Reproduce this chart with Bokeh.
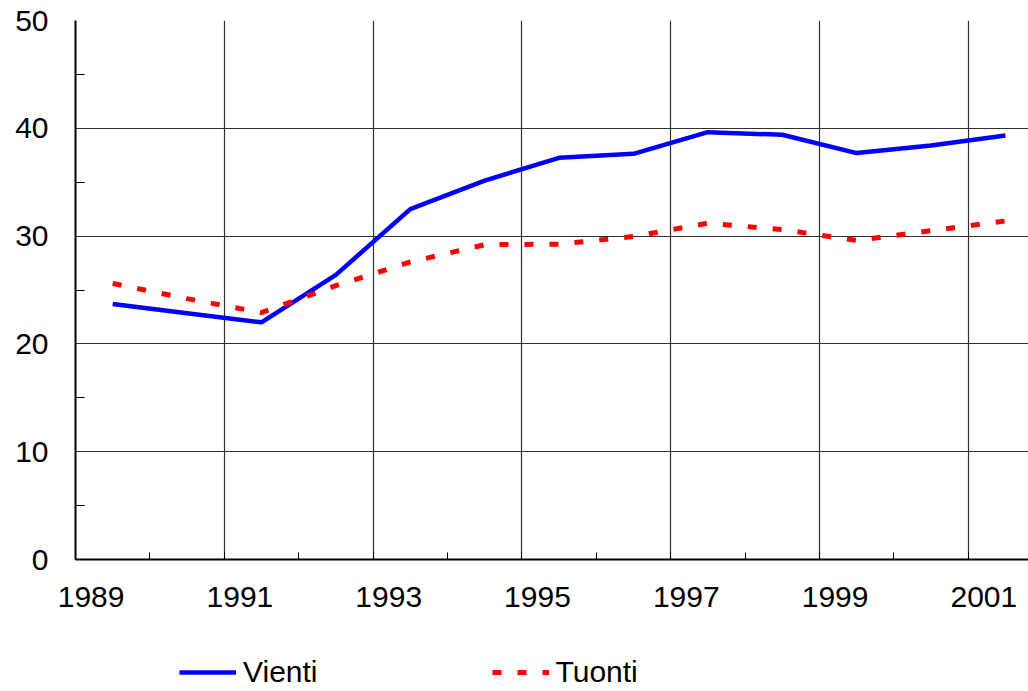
from bokeh.plotting import figure
from bokeh.layouts import column
from bokeh.models import (FixedTicker, CustomJSTickFormatter, Range1d, Legend,
                          LegendItem, ColumnDataSource)
from bokeh.embed import file_html
from bokeh.resources import INLINE

# ---- data ----
years = [1989, 1990, 1991, 1992, 1993, 1994, 1995, 1996, 1997, 1998, 1999, 2000, 2001]
vienti = [23.7, 22.85, 22.0, 26.4, 32.5, 35.15, 37.26, 37.63, 39.64, 39.4, 37.7, 38.4, 39.33]
tuonti = [25.6, 24.2, 22.9, 25.4, 27.6, 29.2, 29.25, 29.96, 31.2, 30.6, 29.6, 30.5, 31.4]
series_names = ["Vienti", "Tuonti"]
label_years = [1989, 1991, 1993, 1995, 1997, 1999, 2001]
y_major = [0, 10, 20, 30, 40, 50]
y_minor = [5, 15, 25, 35, 45]

FONT = "Liberation Sans"
BLUE = "#0000ff"
RED = "#ff0000"
DASH = "9 16"

# categories: each year occupies [year, year+1], point at category centre
xc = [y + 0.5 for y in years]
src = ColumnDataSource(dict(x=xc, v=vienti, t=tuonti))

p = figure(width=1028, height=635, output_backend="svg", toolbar_location=None,
           x_range=Range1d(1989, 2001.81), y_range=Range1d(0, 50),
           min_border_left=75, min_border_right=0, min_border_top=20,
           min_border_bottom=76)
p.outline_line_color = None
p.background_fill_color = "white"
p.border_fill_color = "white"

r_v = p.line("x", "v", source=src, line_color=BLUE, line_width=4.5)
r_t = p.line("x", "t", source=src, line_color=RED, line_width=5, line_dash=DASH)

# x axis
xa = p.xaxis[0]
xa.ticker = FixedTicker(ticks=[y + 0.21 for y in label_years],
                        minor_ticks=[float(y) for y in years] + [2002.0])
xa.formatter = CustomJSTickFormatter(code="return String(Math.floor(tick));")
xa.major_tick_in = 0
xa.major_tick_out = 0
xa.minor_tick_in = 7
xa.minor_tick_out = 0
xa.minor_tick_line_color = "black"
xa.axis_line_color = "black"
xa.axis_line_width = 2
xa.major_label_text_font = FONT
xa.major_label_text_font_size = "30px"
xa.major_label_text_color = "black"
xa.major_label_standoff = 27

# y axis
ya = p.yaxis[0]
ya.ticker = FixedTicker(ticks=y_major, minor_ticks=y_minor)
ya.major_tick_in = 0
ya.major_tick_out = 0
ya.minor_tick_in = 9
ya.minor_tick_out = 0
ya.minor_tick_line_color = "black"
ya.axis_line_color = "black"
ya.axis_line_width = 2
ya.major_label_text_font = FONT
ya.major_label_text_font_size = "30px"
ya.major_label_text_color = "black"
ya.major_label_standoff = 27

# grids
p.xgrid.ticker = FixedTicker(ticks=label_years)
p.xgrid.grid_line_color = "#303030"
p.xgrid.grid_line_width = 1.2
p.ygrid.ticker = FixedTicker(ticks=[10, 20, 30, 40, 50])
p.ygrid.grid_line_color = "#303030"
p.ygrid.grid_line_width = 1.2

# legend strip below the chart (its renderers sit outside its visible range)
lf = figure(width=1028, height=56, output_backend="svg", toolbar_location=None,
            x_range=Range1d(0, 1), y_range=Range1d(0, 1),
            min_border_left=0, min_border_right=0, min_border_top=0,
            min_border_bottom=0)
lf.axis.visible = False
lf.grid.visible = False
lf.outline_line_color = None
lf.border_fill_color = "white"
lg_src = ColumnDataSource(dict(x=[5, 6], y=[5, 6]))
lv = lf.line("x", "y", source=lg_src, line_color=BLUE, line_width=4.5)
lt = lf.line("x", "y", source=lg_src, line_color=RED, line_width=5, line_dash=DASH)

legend = Legend(items=[LegendItem(label=series_names[0], renderers=[lv]),
                       LegendItem(label=series_names[1], renderers=[lt])],
                orientation="horizontal", location=(104, 2),
                label_text_font=FONT, label_text_font_size="30px",
                label_text_color="black", glyph_width=57, glyph_height=24,
                label_standoff=7, spacing=174, padding=0, margin=0,
                border_line_color=None, background_fill_alpha=0)
lf.add_layout(legend, "center")

layout = column(p, lf, spacing=0)
open("out.html", "w").write(file_html(layout, INLINE))
